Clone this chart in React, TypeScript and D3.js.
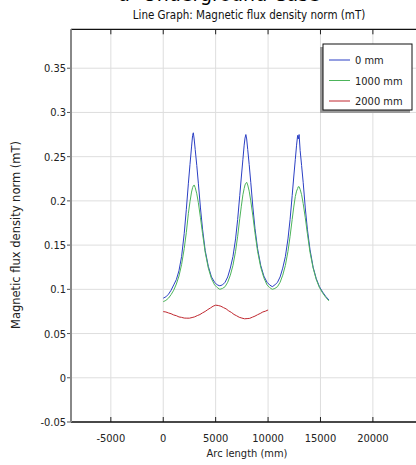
import React from "react";
import * as d3 from "d3";

const xTicks = [-5000, 0, 5000, 10000, 15000, 20000];
const yTicks = [-0.05, 0, 0.05, 0.1, 0.15, 0.2, 0.25, 0.3, 0.35];
const yTickLabels = ["-0.05", "0", "0.05", "0.1", "0.15", "0.2", "0.25", "0.3", "0.35"];

const arcX = [0, 250, 500, 750, 1000, 1250, 1500, 1750, 2000, 2200, 2400, 2550, 2700, 2800, 2870, 2950, 3050, 3200, 3350, 3550, 3750, 4000, 4300, 4600, 4900, 5150, 5400, 5650, 5900, 6150, 6400, 6650, 6900, 7100, 7300, 7450, 7600, 7720, 7800, 7880, 7960, 8060, 8200, 8350, 8550, 8750, 9000, 9300, 9600, 9900, 10150, 10400, 10650, 10900, 11150, 11400, 11650, 11900, 12100, 12300, 12450, 12600, 12720, 12820, 12880, 12960, 13060, 13200, 13350, 13550, 13750, 14000, 14300, 14600, 14900, 15200, 15500, 15800];

const blue0 = [0.090, 0.0915, 0.0945, 0.099, 0.105, 0.111, 0.121, 0.137, 0.163, 0.190, 0.220, 0.241, 0.261, 0.274, 0.277, 0.270, 0.258, 0.240, 0.220, 0.192, 0.168, 0.144, 0.126, 0.114, 0.108, 0.105, 0.104, 0.105, 0.108, 0.114, 0.124, 0.137, 0.157, 0.179, 0.206, 0.227, 0.247, 0.263, 0.271, 0.275, 0.270, 0.258, 0.241, 0.221, 0.193, 0.169, 0.146, 0.127, 0.115, 0.108, 0.105, 0.103, 0.105, 0.108, 0.114, 0.124, 0.137, 0.157, 0.179, 0.206, 0.227, 0.247, 0.263, 0.274, 0.270, 0.275, 0.257, 0.240, 0.221, 0.192, 0.168, 0.145, 0.125, 0.112, 0.103, 0.097, 0.092, 0.088];

const green1000 = [0.086, 0.0875, 0.090, 0.094, 0.099, 0.106, 0.115, 0.128, 0.146, 0.164, 0.186, 0.199, 0.210, 0.215, 0.217, 0.218, 0.215, 0.208, 0.198, 0.181, 0.163, 0.142, 0.124, 0.112, 0.105, 0.102, 0.100, 0.101, 0.103, 0.108, 0.116, 0.127, 0.143, 0.160, 0.180, 0.194, 0.207, 0.214, 0.218, 0.220, 0.221, 0.218, 0.211, 0.200, 0.183, 0.164, 0.143, 0.125, 0.113, 0.105, 0.102, 0.100, 0.101, 0.103, 0.108, 0.116, 0.127, 0.143, 0.160, 0.179, 0.193, 0.205, 0.211, 0.214, 0.216, 0.216, 0.213, 0.207, 0.197, 0.181, 0.163, 0.142, 0.124, 0.111, 0.102, 0.096, 0.091, 0.087];

const redX = [0, 250, 500, 750, 1000, 1250, 1500, 1750, 2000, 2250, 2500, 2750, 3000, 3250, 3500, 3750, 4000, 4250, 4500, 4750, 5000, 5250, 5500, 5750, 6000, 6250, 6500, 6750, 7000, 7250, 7500, 7750, 8000, 8250, 8500, 8750, 9000, 9250, 9500, 9750, 10000];
const red2000 = [0.0748, 0.0744, 0.0733, 0.0724, 0.0710, 0.0702, 0.0688, 0.0683, 0.0675, 0.0674, 0.0674, 0.0681, 0.0689, 0.0703, 0.0715, 0.0734, 0.0750, 0.0771, 0.0789, 0.0809, 0.0821, 0.0817, 0.0809, 0.0793, 0.0779, 0.0756, 0.0739, 0.0716, 0.0701, 0.0684, 0.0675, 0.0667, 0.0669, 0.0672, 0.0685, 0.0697, 0.0713, 0.0727, 0.0744, 0.0753, 0.0767];

const seriesNames = ["0 mm", "1000 mm", "2000 mm"];
const seriesColors = ["#2b3fc4", "#4cb45a", "#c0272f"];

const W = 416;
const H = 465;
const left = 71;
const right = 425.3;
const top = 29.3;
const bottom = 422;

export default function App() {
  const x = d3.scaleLinear().domain([-8800, 25000]).range([left, right]);
  const y = d3.scaleLinear().domain([-0.05, 0.394]).range([bottom, top]);
  const line = d3
    .line<[number, number]>()
    .x((d) => x(d[0]))
    .y((d) => y(d[1]));

  const series: [number, number][][] = [
    arcX.map((v, i) => [v, blue0[i]]),
    arcX.map((v, i) => [v, green1000[i]]),
    redX.map((v, i) => [v, red2000[i]]),
  ];

  const cond = { fontFamily: "DejaVu Sans", fontStretch: "condensed" as const };

  return (
    <svg
      width={W}
      height={H}
      style={{ position: "absolute", left: 0, top: 0, background: "#fff" }}
    >
      <rect x={0} y={0} width={W} height={H} fill="#fff" />
      <text x={219} y={1} fontSize={19} textAnchor="middle" style={{ fontFamily: "DejaVu Sans" }}>
        a- Underground Case
      </text>
      <text x={249} y={19} fontSize={11.5} textAnchor="middle" style={cond} fill="#111">
        Line Graph: Magnetic flux density norm (mT)
      </text>
      <clipPath id="plot">
        <rect x={left} y={top} width={right - left} height={bottom - top} />
      </clipPath>
      {/* grid */}
      {xTicks.map((t) => (
        <line key={"gx" + t} x1={x(t)} x2={x(t)} y1={top} y2={bottom} stroke="#dedede" strokeWidth={1} />
      ))}
      {yTicks.map((t) => (
        <line key={"gy" + t} x1={left} x2={right} y1={y(t)} y2={y(t)} stroke="#dedede" strokeWidth={1} />
      ))}
      {/* tick marks */}
      {xTicks.map((t) => (
        <g key={"tx" + t}>
          <line x1={x(t)} x2={x(t)} y1={bottom} y2={bottom - 5} stroke="#222" strokeWidth={1} />
          <line x1={x(t)} x2={x(t)} y1={top} y2={top + 5} stroke="#222" strokeWidth={1} />
          <text x={x(t)} y={442} fontSize={11} textAnchor="middle" style={cond} fill="#222">
            {t}
          </text>
        </g>
      ))}
      {yTicks.map((t, i) => (
        <g key={"ty" + t}>
          <line x1={left - 4} x2={left} y1={y(t)} y2={y(t)} stroke="#555" strokeWidth={1} />
          <text x={66} y={y(t) + 4} fontSize={11} textAnchor="end" style={cond} fill="#222">
            {yTickLabels[i]}
          </text>
        </g>
      ))}
      {/* frame */}
      <line x1={left} x2={right} y1={top} y2={top} stroke="#111" strokeWidth={1.3} />
      <line x1={left} x2={right} y1={bottom} y2={bottom} stroke="#111" strokeWidth={1.3} />
      <line x1={left} x2={left} y1={top} y2={bottom} stroke="#888" strokeWidth={2} />
      {/* data */}
      <g clipPath="url(#plot)">
        {series.map((s, i) => (
          <path key={i} d={line(s) || ""} fill="none" stroke={seriesColors[i]} strokeWidth={1} />
        ))}
      </g>
      {/* axis labels */}
      <text x={247} y={457} fontSize={11} textAnchor="middle" style={cond} fill="#222">
        Arc length (mm)
      </text>
      <text
        transform="translate(20,235) rotate(-90)"
        fontSize={11.5}
        textAnchor="middle"
        style={{ fontFamily: "DejaVu Sans" }}
        fill="#222"
      >
        Magnetic flux density norm (mT)
      </text>
      {/* legend */}
      <rect x={320} y={47} width={90} height={66} fill="#9a9a9a" />
      <rect x={323} y={44} width={89} height={66} fill="#fff" stroke="#111" strokeWidth={1} />
      {seriesNames.map((n, i) => (
        <g key={n}>
          <line x1={329} x2={350} y1={60 + i * 20.5} y2={60 + i * 20.5} stroke={seriesColors[i]} strokeWidth={1} />
          <text x={355} y={64 + i * 20.5} fontSize={11} style={cond} fill="#222">
            {n}
          </text>
        </g>
      ))}
    </svg>
  );
}
